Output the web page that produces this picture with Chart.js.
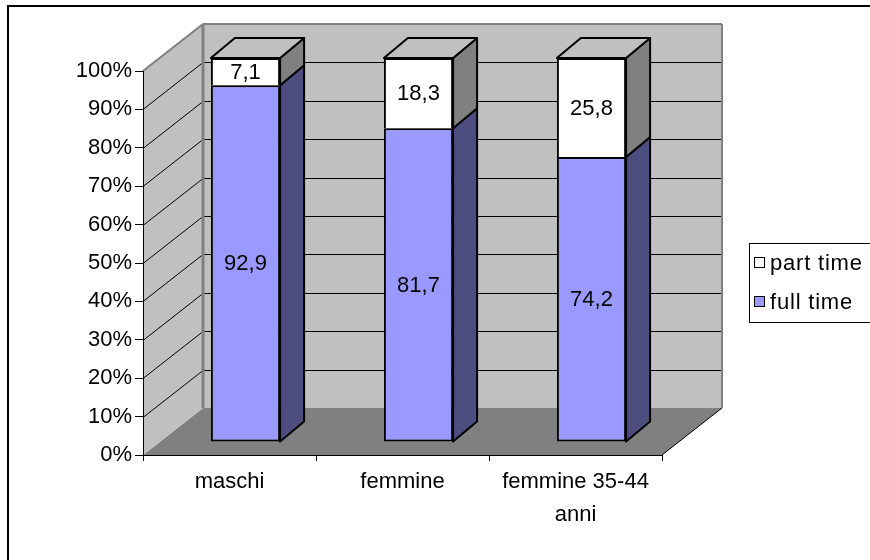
<!DOCTYPE html>
<html>
<head>
<meta charset="utf-8">
<title>full time / part time</title>
<script src="https://cdn.jsdelivr.net/npm/chart.js@4/dist/chart.umd.min.js"></script>
<style>
  html, body { margin: 0; padding: 0; background: #fff; }
  #wrap { width: 870px; height: 560px; }
</style>
</head>
<body>
<div id="wrap"><canvas id="c" width="870" height="560"></canvas></div>
<script>
// ---- data ----
const categories = ['maschi', 'femmine', ['femmine 35-44', 'anni']];
const fullTime = [92.9, 81.7, 74.2];
const partTime = [7.1, 18.3, 25.8];
const seriesNames = ['full time', 'part time'];
const yTickStep = 10;

// ---- look ----
const FONT = "'Liberation Sans', Arial, sans-serif";
const WALL = { dx: 60, dy: -47 };       // depth of the box (walls and floor)
const BAR_FRONT = { dx: 16, dy: -13 };  // offset of the bars' front faces
const BAR_DEPTH = { dx: 24, dy: -20 };  // thickness of the bars
const COLORS = {
  full: { front: '#9999FF', side: '#4D4D80', top: '#7373BF' },
  part: { front: '#FFFFFF', side: '#808080', top: '#C0C0C0' }
};

function poly(ctx, pts) {
  ctx.beginPath();
  ctx.moveTo(pts[0][0], pts[0][1]);
  for (let i = 1; i < pts.length; i++) ctx.lineTo(pts[i][0], pts[i][1]);
  ctx.closePath();
}
function seg(ctx, x1, y1, x2, y2) {
  ctx.beginPath(); ctx.moveTo(x1, y1); ctx.lineTo(x2, y2); ctx.stroke();
}
const fmt = v => v.toFixed(1).replace('.', ',');

const box3d = {
  id: 'box3d',
  beforeDraw(chart) {
    const { ctx, chartArea: a, scales: { y } } = chart;
    const L = a.left, R = a.right, T = a.top, B = a.bottom;
    const bx = WALL.dx, by = WALL.dy;
    ctx.save();
    // outer frame
    ctx.strokeStyle = '#000'; ctx.lineWidth = 2;
    ctx.strokeRect(8, 6, 900, 600);

    // floor
    ctx.fillStyle = '#808080';
    poly(ctx, [[L, B], [L + bx, B + by], [R + bx, B + by], [R, B]]);
    ctx.fill();
    // back wall
    ctx.fillStyle = '#C0C0C0';
    poly(ctx, [[L + bx, T + by], [R + bx, T + by], [R + bx, B + by], [L + bx, B + by]]);
    ctx.fill();
    // side wall
    poly(ctx, [[L, T], [L + bx, T + by], [L + bx, B + by], [L, B]]);
    ctx.fill();

    // gridlines on both walls
    ctx.strokeStyle = '#000'; ctx.lineWidth = 1;
    y.ticks.forEach(t => {
      if (t.value <= y.min || t.value >= y.max) return;
      const py = Math.round(y.getPixelForValue(t.value)) + 0.5;
      seg(ctx, L, py, L + bx, py + by);
      seg(ctx, L + bx, py + by, R + bx, py + by);
    });

    // wall edges
    ctx.strokeStyle = '#808080'; ctx.lineWidth = 2;
    seg(ctx, L, T, L + bx, T + by);
    seg(ctx, L + bx, T + by, R + bx, T + by);
    seg(ctx, R + bx, T + by, R + bx, B + by);
    ctx.lineWidth = 3;
    seg(ctx, L + bx, T + by, L + bx, B + by);
    ctx.strokeStyle = '#000'; ctx.lineWidth = 1;
    seg(ctx, R, B, R + bx, B + by);
    ctx.restore();
  },
  beforeDatasetsDraw(chart) {
    chart.ctx.save();
    chart.ctx.translate(BAR_FRONT.dx, BAR_FRONT.dy);
  },
  afterDatasetsDraw(chart) {
    const ctx = chart.ctx;
    const dx = BAR_DEPTH.dx, dy = BAR_DEPTH.dy;
    const metas = chart.getSortedVisibleDatasetMetas();
    const topMost = {};
    metas.forEach(meta => meta.data.forEach((bar, i) => {
      const p = bar.getProps(['y', 'base'], true);
      const t = Math.min(p.y, p.base);
      if (!(i in topMost) || t < topMost[i].t) topMost[i] = { t, meta };
    }));
    ctx.strokeStyle = '#000'; ctx.lineWidth = 2; ctx.lineJoin = 'round';
    metas.forEach(meta => {
      const ds = chart.data.datasets[meta.index];
      meta.data.forEach((bar, i) => {
        const p = bar.getProps(['x', 'y', 'base', 'width'], true);
        const l = p.x - p.width / 2, r = p.x + p.width / 2;
        const top = Math.min(p.y, p.base), bot = Math.max(p.y, p.base);
        ctx.fillStyle = ds.sideColor;
        poly(ctx, [[r, top], [r + dx, top + dy], [r + dx, bot + dy], [r, bot]]);
        ctx.fill(); ctx.stroke();
        if (topMost[i].meta === meta) {
          ctx.fillStyle = ds.topColor;
          poly(ctx, [[l, top], [l + dx, top + dy], [r + dx, top + dy], [r, top]]);
          ctx.fill(); ctx.stroke();
        }
      });
    });
    // value labels on the front faces
    ctx.fillStyle = '#000';
    ctx.font = '22px ' + FONT;
    ctx.textAlign = 'center'; ctx.textBaseline = 'middle';
    metas.forEach(meta => {
      const ds = chart.data.datasets[meta.index];
      meta.data.forEach((bar, i) => {
        const p = bar.getProps(['x', 'y', 'base'], true);
        ctx.fillText(fmt(ds.data[i]), p.x, (p.y + p.base) / 2 + 1);
      });
    });
    ctx.restore();
  },
  afterDraw(chart) {
    const ctx = chart.ctx;
    ctx.save();
    ctx.strokeStyle = '#000'; ctx.lineWidth = 1;
    ctx.strokeRect(749.5, 243.5, 200, 79);
    ctx.font = '22px ' + FONT;
    ctx.textAlign = 'left'; ctx.textBaseline = 'middle';
    ctx.letterSpacing = '0.8px';
    const items = chart.data.datasets.slice().reverse();
    items.forEach((ds, k) => {
      const cy = 263 + k * 39;
      ctx.fillStyle = ds.backgroundColor;
      ctx.fillRect(754.5, cy - 5.5, 10, 10);
      ctx.strokeRect(754.5, cy - 5.5, 10, 10);
      ctx.fillStyle = '#000';
      ctx.fillText(ds.label, 770, cy + 1);
    });
    ctx.restore();
  }
};

Chart.defaults.color = '#000';
Chart.defaults.font.family = FONT;

new Chart(document.getElementById('c'), {
  type: 'bar',
  data: {
    labels: categories,
    datasets: [
      {
        label: seriesNames[0], data: fullTime,
        backgroundColor: COLORS.full.front, sideColor: COLORS.full.side, topColor: COLORS.full.top,
        borderColor: '#000', borderWidth: 2, borderSkipped: false
      },
      {
        label: seriesNames[1], data: partTime,
        backgroundColor: COLORS.part.front, sideColor: COLORS.part.side, topColor: COLORS.part.top,
        borderColor: '#000', borderWidth: 2, borderSkipped: 'start'
      }
    ]
  },
  options: {
    responsive: false,
    animation: false,
    devicePixelRatio: 1,
    layout: { padding: { left: 0, top: 71, right: 208, bottom: 0 } },
    datasets: { bar: { categoryPercentage: 1, barPercentage: 0.4 } },
    plugins: { legend: { display: false }, tooltip: { enabled: false } },
    scales: {
      x: {
        stacked: true,
        grid: { drawOnChartArea: false, color: '#000', tickLength: 6, offset: true },
        border: { color: '#000', width: 1 },
        ticks: { font: { size: 22, lineHeight: 1.5 }, padding: 4, maxRotation: 0, autoSkip: false },
        afterFit(s) { s.height = 105; }
      },
      y: {
        stacked: true, min: 0, max: 100,
        grid: { drawOnChartArea: false, color: '#000', tickLength: 8 },
        border: { color: '#000', width: 1 },
        ticks: { stepSize: yTickStep, font: { size: 22 }, padding: 3, callback: v => v + '%' },
        afterFit(s) { s.width = 143; }
      }
    }
  },
  plugins: [box3d]
});
</script>
</body>
</html>
